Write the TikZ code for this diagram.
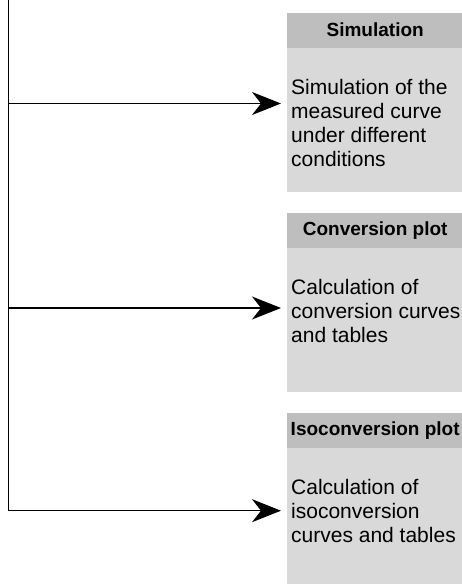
\documentclass[tikz,border=0pt]{standalone}
\usepackage{fontspec}
\setmainfont{Liberation Sans}
\usetikzlibrary{arrows.meta,positioning}
\definecolor{headgray}{RGB}{190,190,190}
\definecolor{bodygray}{RGB}{217,217,217}
\tikzset{
>={Stealth[length=29pt,width=23pt,inset=9pt]},
headbox/.style={rectangle, fill=headgray, minimum width=176pt, minimum height=35pt, inner sep=0pt, anchor=north west, font=\bfseries\fontsize{19}{23}\selectfont},
bodybox/.style={rectangle, fill=bodygray, minimum width=176pt, minimum height=144pt, inner sep=0pt},
bodytext/.style={anchor=north west, inner sep=0pt, align=left, font=\fontsize{21}{24}\selectfont},
line/.style={draw, line width=1.2pt, ->, shorten >=6pt},
trunk/.style={draw, line width=1.2pt, -},
}
\begin{document}
\begin{tikzpicture}[x=1pt, y=-1pt]
\useasboundingbox (0,0) rectangle (461,584);

% panels on the right
\node[headbox] (simhead) at (287,12.3) {Simulation};
\node[bodybox, below=0pt of simhead] (simbody) {};
\node[bodytext] (simtext) at ([xshift=4pt,yshift=-31pt]simbody.north west) {Simulation of the\\measured curve\\under different\\conditions};

\node[headbox] (convhead) at (287,212.7) {Conversion plot};
\node[bodybox, below=0pt of convhead] (convbody) {};
\node[bodytext] (convtext) at ([xshift=4pt,yshift=-31pt]convbody.north west) {Calculation of\\conversion curves\\and tables};

\node[headbox] (isohead) at (287,412.7) {Isoconversion plot};
\node[bodybox, below=0pt of isohead] (isobody) {};
\node[bodytext] (isotext) at ([xshift=4pt,yshift=-31pt]isobody.north west) {Calculation of\\isoconversion\\curves and tables};

% trunk and branches
\coordinate (top) at (8.5,0);
\coordinate (j1) at (8.5,103.5);
\coordinate (j2) at (8.5,308);
\coordinate (j3) at (8.5,510.7);

\draw[line] (top) -- (j3) -- (j3 -| isobody.west);
\draw[line] (j1) -- (j1 -| simbody.west);
\draw[line] (j2) -- (j2 -| convbody.west);

\end{tikzpicture}
\end{document}
